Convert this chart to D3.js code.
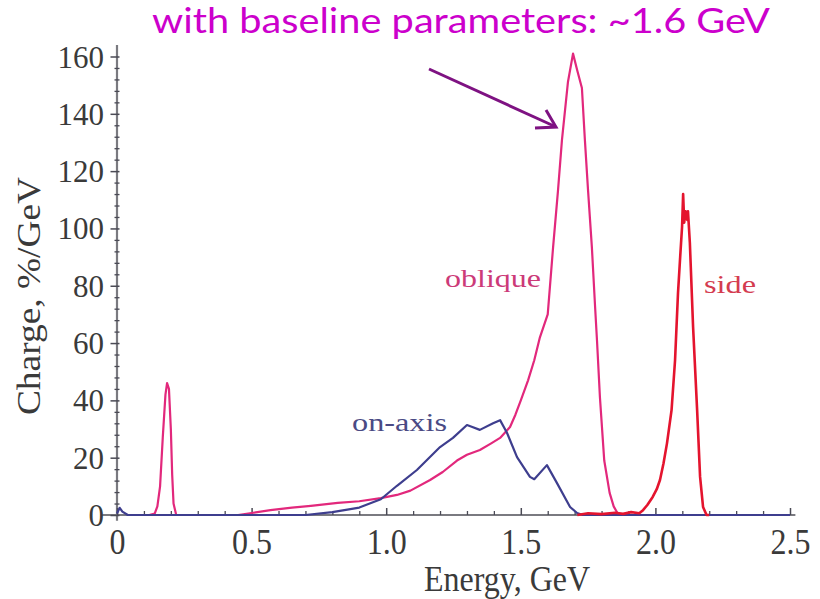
<!DOCTYPE html>
<html>
<head>
<meta charset="utf-8">
<script src="https://cdn.jsdelivr.net/npm/d3@7"></script>
<style>
  html, body { margin: 0; padding: 0; background: #fff; }
  svg { display: block; }
</style>
</head>
<body>
<svg id="chart" width="820" height="599"></svg>
<script>
// ---------- data ----------
const xTickValues = [0, 0.5, 1.0, 1.5, 2.0, 2.5];
const xTickLabels = ["0", "0.5", "1.0", "1.5", "2.0", "2.5"];
const yTickValues = [0, 20, 40, 60, 80, 100, 120, 140, 160];
const yTickLabels = ["0", "20", "40", "60", "80", "100", "120", "140", "160"];

const obliqueEnergy = [0.12, 0.14, 0.15, 0.16, 0.17, 0.18, 0.186, 0.193, 0.2, 0.205, 0.21, 0.22,
  0.45, 0.5, 0.57, 0.65, 0.72, 0.82, 0.9, 0.98, 1.04, 1.09, 1.163, 1.21, 1.263, 1.3, 1.348, 1.39,
  1.423, 1.46, 1.48, 1.5, 1.527, 1.55, 1.571, 1.6, 1.62, 1.638, 1.653, 1.675, 1.694, 1.71, 1.727,
  1.738, 1.75, 1.764, 1.776, 1.783, 1.794, 1.81, 1.83, 1.845, 1.86, 1.88, 2.5];
const obliqueCharge = [0, 0.5, 3, 10, 27, 42, 46, 44, 30, 14, 4, 0,
  0, 0.7, 1.7, 2.6, 3.2, 4.2, 4.8, 5.9, 7, 8.5, 12.2, 15, 19, 21, 22.7, 25,
  26.9, 30.7, 35, 40, 47, 54, 62, 70, 93.5, 113, 131, 151, 161, 155, 149,
  131, 113, 93.5, 72.6, 61, 41, 19, 7.7, 3, 0.5, 0, 0];

const onAxisEnergy = [0, 0.01, 0.02, 0.04, 0.7, 0.8, 0.9, 0.98, 1.04, 1.114, 1.2, 1.248, 1.3,
  1.32, 1.348, 1.397, 1.423, 1.449, 1.486, 1.534, 1.55, 1.597, 1.634, 1.683, 1.709, 1.73, 2.5];
const onAxisCharge = [0.5, 2.5, 1.2, 0, 0, 1, 2.6, 5.5, 10.2, 15.7, 23.7, 26.9, 31.4,
  30.7, 29.7, 32, 33.1, 28.6, 20.2, 13.3, 12.5, 17.4, 11.2, 2.8, 0.7, 0, 0];

const sideEnergy = [1.71, 1.75, 1.8, 1.85, 1.88, 1.91, 1.94, 1.954, 1.97, 1.99, 2.005, 2.017, 2.03,
  2.043, 2.06, 2.073, 2.084, 2.092, 2.099, 2.103, 2.107, 2.112, 2.118, 2.121, 2.128, 2.14,
  2.155, 2.166, 2.177, 2.19, 2.2];
const sideCharge = [0, 0.6, 0.3, 0.8, 0.4, 1, 0.6, 1.7, 3.5, 6.3, 9, 12.2, 18,
  25, 36.6, 54, 77.5, 90, 100.5, 112, 102, 106, 103, 106, 95, 65.6,
  36.6, 13.3, 2.8, 0, 0];

const seriesLabels = ["oblique", "on-axis", "side"];
const titleText = "with baseline parameters: ~1.6 GeV";
const xTitle = "Energy, GeV";
const yTitle = "Charge, %/GeV";

// ---------- drawing ----------
const svg = d3.select("#chart");
const x = d3.scaleLinear().domain([0, 2.5]).range([117, 790]);
const y = d3.scaleLinear().domain([0, 160]).range([515, 56.5]);

const serif = "'Liberation Serif', 'DejaVu Serif', serif";
const axisColor = "#7a7a80";
const tickColor = "#4a4a55";
const textColor = "#3a3a3a";

// axis lines
svg.append("line")
  .attr("x1", x(-0.055)).attr("x2", x(2.52))
  .attr("y1", y(0)).attr("y2", y(0))
  .attr("stroke", axisColor).attr("stroke-width", 2.2);
svg.append("line")
  .attr("x1", x(0)).attr("x2", x(0))
  .attr("y1", y(-2)).attr("y2", y(164))
  .attr("stroke", axisColor).attr("stroke-width", 2.2);

// x minor ticks
const xMinor = d3.range(0, 25).map(i => i / 10).filter(v => Math.round(v * 10) % 5 !== 0);
const xMinorAxis = svg.append("g").attr("transform", `translate(0,${y(0)})`)
  .call(d3.axisTop(x).tickValues(xMinor).tickSize(4).tickFormat(""));
xMinorAxis.select(".domain").remove();
xMinorAxis.selectAll("line").attr("stroke", tickColor).attr("stroke-width", 1.3);

// x major ticks
const xMajorAxis = svg.append("g").attr("transform", `translate(0,${y(0)})`)
  .call(d3.axisTop(x).tickValues(xTickValues).tickSize(7).tickFormat(""));
xMajorAxis.select(".domain").remove();
xMajorAxis.selectAll("line").attr("stroke", tickColor).attr("stroke-width", 1.5);

// x tick labels
const xLab = svg.append("g").attr("transform", `translate(0,${y(0)})`)
  .call(d3.axisBottom(x).tickValues(xTickValues).tickSize(0).tickPadding(0)
    .tickFormat((d, i) => xTickLabels[i]));
xLab.select(".domain").remove();
xLab.selectAll("text")
  .attr("y", 0).attr("dy", 0)
  .attr("transform", "translate(0,39) scale(1,1.15)")
  .attr("font-family", serif).attr("font-size", 32).attr("fill", textColor);

// y minor ticks
const yMinor = d3.range(0, 161, 4).filter(v => v % 20 !== 0);
const yMinorAxis = svg.append("g").attr("transform", `translate(${x(0) + 2.5},0)`)
  .call(d3.axisLeft(y).tickValues(yMinor).tickSize(5).tickFormat(""));
yMinorAxis.select(".domain").remove();
yMinorAxis.selectAll("line").attr("stroke", tickColor).attr("stroke-width", 1.3);

// y major ticks
const yMajorAxis = svg.append("g").attr("transform", `translate(${x(0) + 2.5},0)`)
  .call(d3.axisLeft(y).tickValues(yTickValues).tickSize(9).tickFormat(""));
yMajorAxis.select(".domain").remove();
yMajorAxis.selectAll("line").attr("stroke", tickColor).attr("stroke-width", 1.5);

// y tick labels
const yLab = svg.append("g").attr("transform", `translate(${x(0)},0)`)
  .call(d3.axisLeft(y).tickValues(yTickValues).tickSize(0).tickPadding(13)
    .tickFormat((d, i) => yTickLabels[i]));
yLab.select(".domain").remove();
yLab.selectAll("text")
  .attr("dy", "0.34em")
  .attr("font-family", serif).attr("font-size", 31).attr("fill", textColor);

// axis titles
svg.append("text")
  .attr("transform", "translate(507,591) scale(1,1.15)")
  .attr("text-anchor", "middle")
  .attr("font-family", serif).attr("font-size", 32).attr("fill", textColor)
  .text(xTitle);
svg.append("text")
  .attr("transform", "translate(40,296) rotate(-90) scale(1.1,1)")
  .attr("text-anchor", "middle")
  .attr("font-family", serif).attr("font-size", 34).attr("fill", textColor)
  .text(yTitle);

// curves
const line = d3.line().x(d => x(d[0])).y(d => y(d[1]));
function draw(es, cs, color, w) {
  svg.append("path")
    .datum(es.map((e, i) => [e, cs[i]]))
    .attr("d", line)
    .attr("fill", "none")
    .attr("stroke", color)
    .attr("stroke-width", w)
    .attr("stroke-linejoin", "round");
}
draw(obliqueEnergy, obliqueCharge, "#e2287c", 2.2);
draw(onAxisEnergy, onAxisCharge, "#3e3e8e", 2.2);
draw(sideEnergy, sideCharge, "#e4142e", 2.6);

// series labels
const labelSpecs = [
  { t: seriesLabels[0], px: 445, py: 287, len: 96, c: "#cc3a78" },
  { t: seriesLabels[1], px: 352, py: 431, len: 95, c: "#4a4a84" },
  { t: seriesLabels[2], px: 704, py: 293, len: 52, c: "#d43c50" }
];
labelSpecs.forEach(s => {
  svg.append("text")
    .attr("x", s.px).attr("y", s.py)
    .attr("font-family", serif).attr("font-size", 26)
    .attr("textLength", s.len).attr("lengthAdjust", "spacingAndGlyphs")
    .attr("fill", s.c).text(s.t);
});

// title
svg.append("text")
  .attr("x", 152).attr("y", 33)
  .attr("font-family", "Lato, 'Open Sans', sans-serif").attr("font-size", 34)
  .attr("textLength", 618).attr("lengthAdjust", "spacingAndGlyphs")
  .attr("fill", "#cc00cc").text(titleText);

// arrow
const arrowColor = "#7e1282";
svg.append("line")
  .attr("x1", 429).attr("y1", 69).attr("x2", 554).attr("y2", 126)
  .attr("stroke", arrowColor).attr("stroke-width", 3);
svg.append("path")
  .attr("d", "M535,128 L556,127 L546,110")
  .attr("fill", "none").attr("stroke", arrowColor).attr("stroke-width", 3)
  .attr("stroke-linejoin", "miter");
</script>
</body>
</html>
